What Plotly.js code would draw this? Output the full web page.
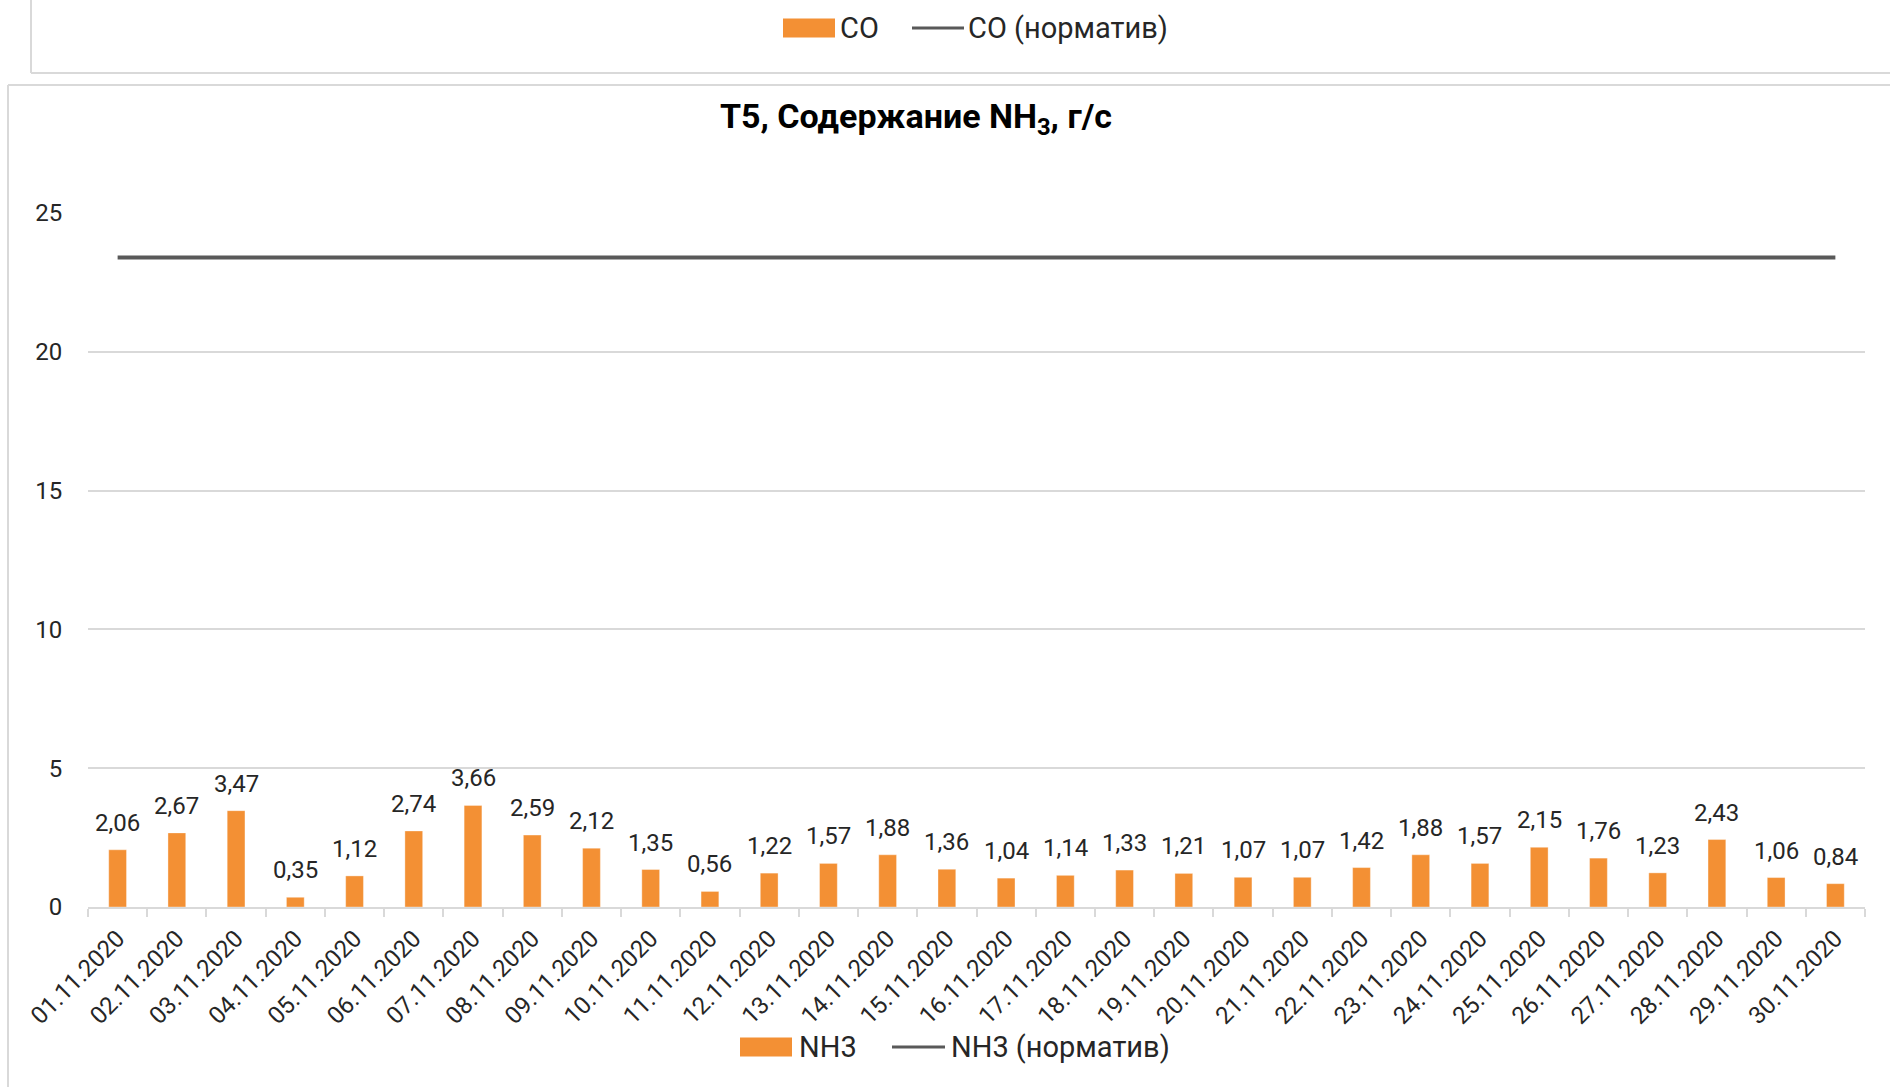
<!DOCTYPE html>
<html>
<head>
<meta charset="utf-8">
<script src="https://cdn.plot.ly/plotly-3.0.1.min.js"></script>
<style>
  html, body { margin: 0; padding: 0; background: #ffffff; }
  #chart { width: 1890px; height: 1087px; }
</style>
</head>
<body>
<div id="chart"></div>
<script>
// ---- data ----
const dates = ["01.11.2020","02.11.2020","03.11.2020","04.11.2020","05.11.2020","06.11.2020",
  "07.11.2020","08.11.2020","09.11.2020","10.11.2020","11.11.2020","12.11.2020","13.11.2020",
  "14.11.2020","15.11.2020","16.11.2020","17.11.2020","18.11.2020","19.11.2020","20.11.2020",
  "21.11.2020","22.11.2020","23.11.2020","24.11.2020","25.11.2020","26.11.2020","27.11.2020",
  "28.11.2020","29.11.2020","30.11.2020"];
const nh3 = [2.06,2.67,3.47,0.35,1.12,2.74,3.66,2.59,2.12,1.35,0.56,1.22,1.57,1.88,1.36,
  1.04,1.14,1.33,1.21,1.07,1.07,1.42,1.88,1.57,2.15,1.76,1.23,2.43,1.06,0.84];
const nh3Norm = [23.4,23.4,23.4,23.4,23.4,23.4,23.4,23.4,23.4,23.4,23.4,23.4,23.4,23.4,23.4,
  23.4,23.4,23.4,23.4,23.4,23.4,23.4,23.4,23.4,23.4,23.4,23.4,23.4,23.4,23.4];
const yTicks = [0,5,10,15,20,25];
const seriesNames = ["NH3","NH3 (норматив)"];
const topLegendNames = ["CO","CO (норматив)"];
const chartTitle = "T5, Содержание NH<sub>3</sub>, г/с";

// ---- style ----
const FONT = "Roboto, 'Noto Sans', sans-serif";
const ORANGE = "#F39034";
const GREY_LINE = "#595959";
const GRID = "#d9d9d9";

// plot-area geometry in pixels (used to place frame decorations)
const W = 1890, H = 1087;
const L = 88, R = 25, T = 213, B = 180;
const pw = W - L - R, ph = H - T - B;
const px = x => (x - L) / pw;
const py = y => (H - B - y) / ph;

const fmt = v => v.toFixed(2).replace(".", ",");

const traces = [
  {
    type: "bar",
    name: seriesNames[0],
    x: dates,
    y: nh3,
    marker: { color: ORANGE, line: { color: "rgba(255,255,255,0.35)", width: 1 } },
    hoverinfo: "x+y",
    showlegend: false
  },
  {
    type: "scatter",
    mode: "lines",
    name: seriesNames[1],
    x: dates,
    y: nh3Norm,
    line: { color: GREY_LINE, width: 4 },
    hoverinfo: "x+y",
    showlegend: false
  }
];

// data labels above bars
const labelAnn = dates.map((d, i) => ({
  x: d, y: nh3[i], xref: "x", yref: "y",
  text: fmt(nh3[i]),
  showarrow: false,
  yanchor: "bottom",
  yshift: 11,
  font: { family: FONT, size: 24, color: "#262626" }
}));

// legend entries (Excel-style wide swatches), built from the series names
function legendAnn(names, textX, cy, size) {
  return names.map((n, i) => ({
    xref: "paper", yref: "paper", x: px(textX[i]), y: py(cy), xanchor: "left", yanchor: "middle",
    text: n, showarrow: false, font: { family: FONT, size: size, color: "#262626" }
  }));
}
function legendShapes(rectX, lineX, cy, h) {
  return [
    { type: "rect", xref: "paper", yref: "paper", x0: px(rectX[0]), x1: px(rectX[1]),
      y0: py(cy + h / 2), y1: py(cy - h / 2), fillcolor: ORANGE, line: { width: 0 } },
    { type: "line", xref: "paper", yref: "paper", x0: px(lineX[0]), x1: px(lineX[1]),
      y0: py(cy), y1: py(cy), line: { color: GREY_LINE, width: 3 } }
  ];
}

const shapes = [
  // top box frame (neighbouring chart)
  { type: "line", xref: "paper", yref: "paper", x0: px(31), x1: px(31), y0: py(0), y1: py(73),
    line: { color: GRID, width: 2 } },
  { type: "line", xref: "paper", yref: "paper", x0: px(31), x1: px(1890), y0: py(73), y1: py(73),
    line: { color: GRID, width: 2 } },
  // main chart frame
  { type: "line", xref: "paper", yref: "paper", x0: px(8), x1: px(1890), y0: py(85), y1: py(85),
    line: { color: GRID, width: 2 } },
  { type: "line", xref: "paper", yref: "paper", x0: px(8), x1: px(8), y0: py(85), y1: py(1087),
    line: { color: GRID, width: 2 } }
].concat(
  legendShapes([783, 835], [912, 964], 28, 19),
  legendShapes([740, 792], [892, 945], 1047, 19)
);

const annotations = labelAnn.concat(
  legendAnn(topLegendNames, [838, 966], 28, 29),
  legendAnn(seriesNames, [797, 949], 1047, 29)
);

const layout = {
  width: W, height: H,
  margin: { l: L, r: R, t: T, b: B, pad: 0 },
  paper_bgcolor: "#ffffff",
  plot_bgcolor: "#ffffff",
  separators: ", ",
  font: { family: FONT, color: "#262626" },
  title: {
    text: chartTitle,
    font: { family: FONT, size: 34, color: "#000000", weight: "bold" },
    x: 916 / W, xanchor: "center", xref: "container",
    y: 1 - 116 / H, yanchor: "middle", yref: "container"
  },
  bargap: 0.7,
  showlegend: false,
  xaxis: {
    type: "category",
    tickangle: -45,
    tickson: "boundaries",
    ticks: "outside",
    ticklen: 8,
    tickwidth: 2,
    tickcolor: GRID,
    showline: true,
    linecolor: GRID,
    linewidth: 2,
    showgrid: false,
    ticklabelstandoff: 6,
    tickfont: { family: FONT, size: 24, color: "#262626" },
    fixedrange: true
  },
  yaxis: {
    range: [0, 25],
    tickvals: yTicks,
    ticktext: yTicks.map(String),
    showgrid: true,
    gridcolor: GRID,
    gridwidth: 2,
    zeroline: false,
    showline: false,
    ticks: "outside",
    ticklen: 20,
    tickcolor: "rgba(0,0,0,0)",
    tickfont: { family: FONT, size: 24, color: "#262626" },
    fixedrange: true
  },
  annotations: annotations,
  shapes: shapes
};

Plotly.newPlot("chart", traces, layout, { displayModeBar: false, staticPlot: true });
</script>
</body>
</html>
